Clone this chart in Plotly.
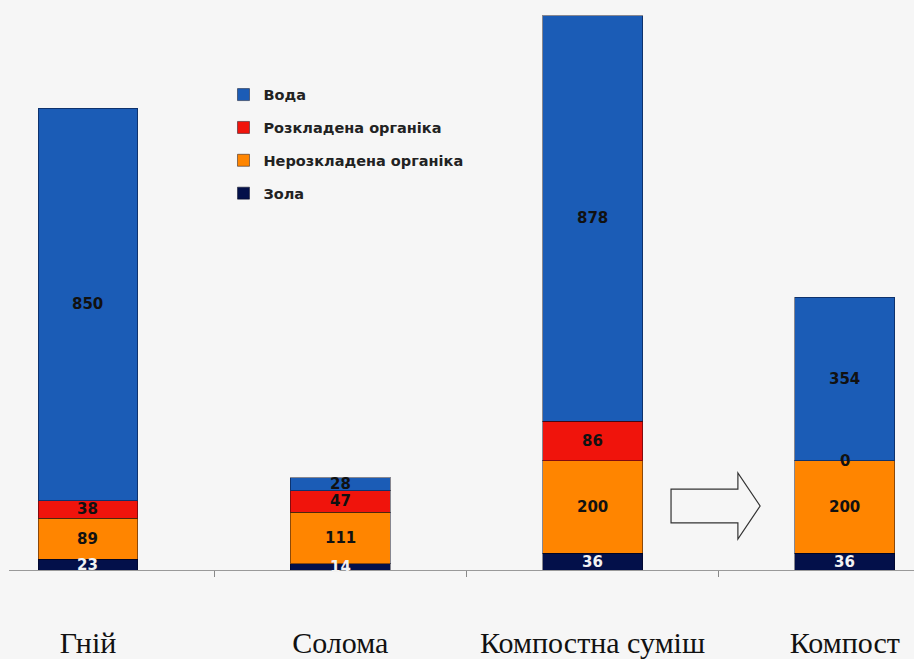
import plotly.graph_objects as go

categories = ["Гній", "Солома", "Компостна суміш", "Компост"]
zola = [23, 14, 36, 36]
nerozkl = [89, 111, 200, 200]
rozkl = [38, 47, 86, 0]
voda = [850, 28, 878, 354]

series = [
    ("Зола", zola, "#03104a", "#f2f2f2"),
    ("Нерозкладена органіка", nerozkl, "#ff8500", "#111111"),
    ("Розкладена органіка", rozkl, "#f0140c", "#111111"),
    ("Вода", voda, "#1b5cb6", "#111111"),
]

xpos = list(range(len(categories)))

fig = go.Figure()
n = len(series)
for i, (name, vals, col, _) in enumerate(series):
    fig.add_trace(go.Bar(
        x=xpos, y=vals, name=name, width=0.396,
        marker=dict(color=col, line=dict(color="rgba(0,0,20,0.45)", width=1)),
        legendgroup=f"g{i}", legendrank=n - i, hoverinfo="skip",
    ))

# value labels at the middle of each segment
annotations = []
base = [0] * len(categories)
for name, vals, col, tcol in series:
    for j, v in enumerate(vals):
        annotations.append(dict(
            x=xpos[j], y=base[j] + v / 2, xref="x", yref="y",
            text=f"<b>{v}</b>", showarrow=False,
            font=dict(family="DejaVu Sans", size=15, color=tcol),
        ))
        base[j] += v

# hollow block arrow between the last two bars
arrow = ("M 2.311 175 L 2.576 175 L 2.576 210 L 2.664 138.5 "
         "L 2.576 67 L 2.576 102 L 2.311 102 Z")

fig.update_layout(
    width=914, height=659,
    margin=dict(l=9, r=0, t=0, b=89),
    paper_bgcolor="#f6f6f6", plot_bgcolor="#f6f6f6",
    barmode="stack",
    showlegend=True,
    legend=dict(
        x=0.237, y=0.862, xanchor="left", yanchor="top",
        traceorder="grouped", tracegroupgap=11,
        font=dict(family="DejaVu Sans", size=14.5, color="#222222", weight="bold"),
        bgcolor="rgba(0,0,0,0)",
    ),
    xaxis=dict(
        range=[-0.313, 3.274], tickmode="array", tickvals=xpos, ticktext=categories,
        ticks="", showgrid=False, zeroline=False,
        showline=True, linecolor="#9a9a9a", linewidth=1,
        tickfont=dict(family="Liberation Serif", size=30, color="#111111"),
        ticklabelstandoff=46,
        minor=dict(tickmode="array", tickvals=[0.5, 1.5, 2.5], ticks="outside",
                   ticklen=6, tickcolor="#888888", showgrid=False),
    ),
    yaxis=dict(range=[0, 1233.8], visible=False, showgrid=False, zeroline=False),
    annotations=annotations,
    shapes=[dict(type="path", path=arrow, xref="x", yref="y",
                 line=dict(color="#333333", width=1.2), fillcolor="rgba(0,0,0,0)")],
)

fig.write_html("out.html")
